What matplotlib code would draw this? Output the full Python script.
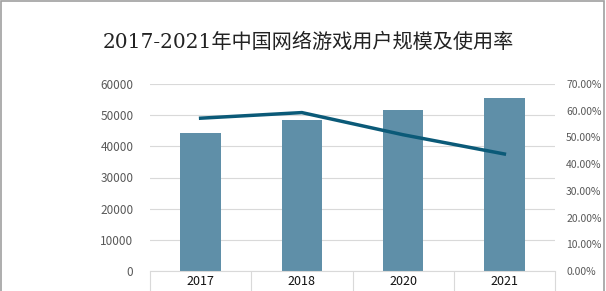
import matplotlib.pyplot as plt
from matplotlib.patches import Rectangle
from matplotlib.ticker import FuncFormatter
import numpy as np

plt.rcParams['font.family'] = ['Noto Sans CJK SC', 'DejaVu Sans']

years = ["2017", "2018", "2020", "2021"]
users = [44161, 48384, 51793, 55354]
rate = [57.2, 59.3, 51.0, 43.8]

fig = plt.figure(figsize=(6.06, 2.91), dpi=100)
ax = fig.add_axes([150/606, 20/291, 405/606, 187/291])
x = np.arange(len(years))

ax.bar(x, users, width=0.4, color="#5f8fa8", zorder=2)
ax.set_xlim(-0.5, 3.5)
ax.set_ylim(0, 60000)
ax.set_yticks(range(0, 60001, 10000))
ax.grid(axis="y", color="#d9d9d9", linewidth=0.8, zorder=0)
for s in ["top", "right", "left"]:
    ax.spines[s].set_visible(False)
ax.spines["bottom"].set_color("#d9d9d9")
ax.tick_params(axis="y", length=0, labelsize=8.5, labelcolor="#595959", pad=12)
ax.set_xticks(x)
ax.set_xticklabels(years)
ax.tick_params(axis="x", length=0, labelsize=9, labelcolor="#111111", pad=3)
ax.set_xticks(np.arange(-0.5, 4, 1), minor=True)
ax.tick_params(axis="x", which="minor", length=25, color="#d9d9d9", width=0.8)

ax2 = ax.twinx()
ax2.plot(x, [r / 100 for r in rate], color="#0b5a78", linewidth=2.5, zorder=3)
ax2.set_ylim(0, 0.7)
ax2.set_yticks(np.arange(0, 0.71, 0.1))
ax2.yaxis.set_major_formatter(FuncFormatter(lambda v, p: "%.2f%%" % (v * 100)))
for s in ["top", "right", "left", "bottom"]:
    ax2.spines[s].set_visible(False)
ax2.tick_params(axis="y", length=0, labelsize=7.5, labelcolor="#595959", pad=8)

fig.text(0.508, 1 - 42/291, "2017-2021年中国网络游戏用户规模及使用率",
         ha="center", va="center", fontsize=14.5, color="#222222",
         family=['DejaVu Serif', 'Noto Sans CJK SC'])

fig.patches.append(Rectangle((0.002, -0.01), 0.994, 1.006, transform=fig.transFigure,
                             fill=False, edgecolor="#a0a0a0", linewidth=1.2))

fig.savefig("out.png", dpi=100)
